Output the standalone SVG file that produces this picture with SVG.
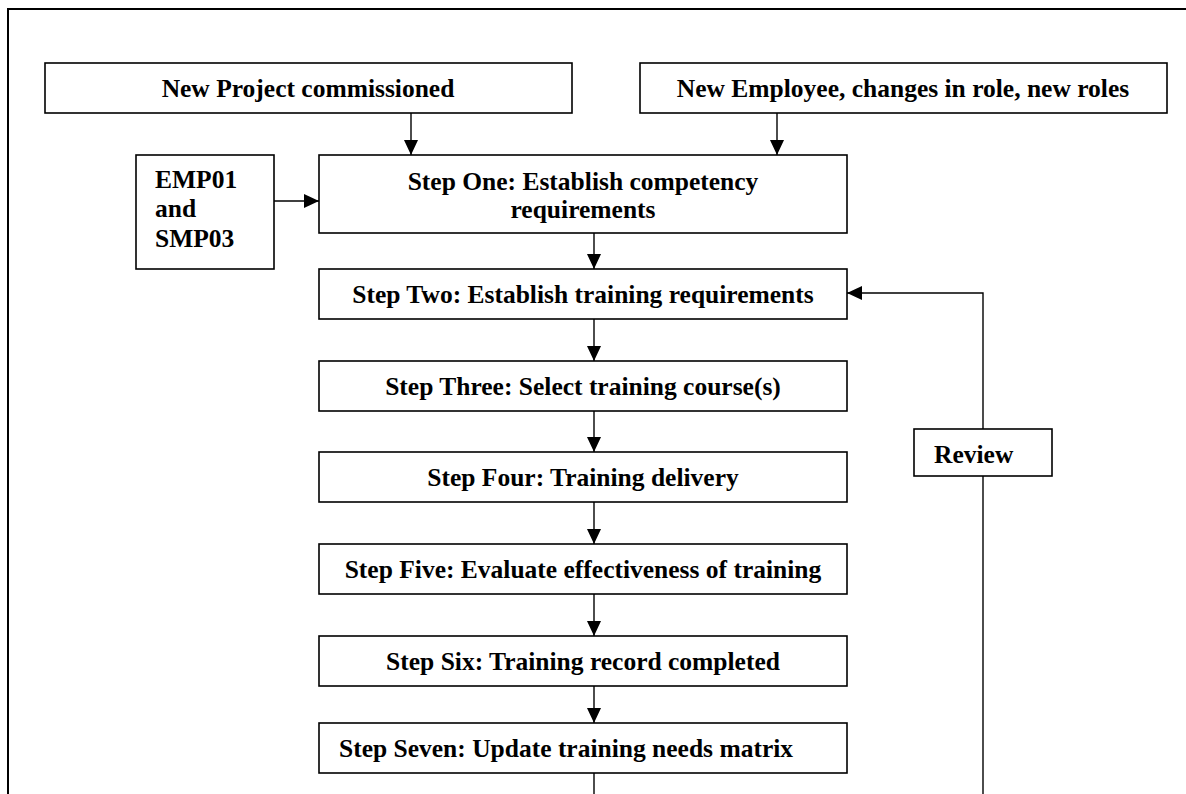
<svg xmlns="http://www.w3.org/2000/svg" width="1186" height="794" viewBox="0 0 1186 794">
  <style>
    .box { fill: #ffffff; stroke: #000000; stroke-width: 1.6; }
    .lbl { font-family: "Liberation Serif", "Times New Roman", serif; font-weight: bold; font-size: 25.5px; fill: #000000; }
    .mid { text-anchor: middle; }
    .conn { fill: none; stroke: #000000; stroke-width: 1.4; }
    .frame { fill: none; stroke: #000000; stroke-width: 2; }
  </style>
  <defs>
    <marker id="arr" markerUnits="userSpaceOnUse" markerWidth="15" markerHeight="14" refX="15" refY="7" orient="auto">
      <path d="M0,0 L15,7 L0,14 z" fill="#000000"/>
    </marker>
  </defs>
  <rect x="0" y="0" width="1186" height="794" fill="#ffffff"/>
  <path class="frame" d="M8,794 L8,9 L1186,9"/>

  <g id="connectors">
    <line class="conn" x1="411" y1="113" x2="411" y2="155" marker-end="url(#arr)"/>
    <line class="conn" x1="777" y1="113" x2="777" y2="155" marker-end="url(#arr)"/>
    <line class="conn" x1="274" y1="201" x2="319" y2="201" marker-end="url(#arr)"/>
    <line class="conn" x1="594" y1="233" x2="594" y2="269" marker-end="url(#arr)"/>
    <line class="conn" x1="594" y1="319" x2="594" y2="361" marker-end="url(#arr)"/>
    <line class="conn" x1="594" y1="411" x2="594" y2="452" marker-end="url(#arr)"/>
    <line class="conn" x1="594" y1="502" x2="594" y2="544" marker-end="url(#arr)"/>
    <line class="conn" x1="594" y1="594" x2="594" y2="636" marker-end="url(#arr)"/>
    <line class="conn" x1="594" y1="686" x2="594" y2="723" marker-end="url(#arr)"/>
    <line class="conn" x1="594" y1="773" x2="594" y2="794"/>
    <line class="conn" x1="983" y1="794" x2="983" y2="476"/>
    <polyline class="conn" points="983,429 983,293 847,293" marker-end="url(#arr)"/>
  </g>

  <g id="new-project">
    <rect class="box" x="45" y="63" width="527" height="50"/>
    <text class="lbl mid" x="308" y="97">New Project commissioned</text>
  </g>
  <g id="new-employee">
    <rect class="box" x="640" y="63" width="527" height="50"/>
    <text class="lbl mid" x="903" y="97">New Employee, changes in role, new roles</text>
  </g>
  <g id="emp01-smp03">
    <rect class="box" x="136" y="155" width="138" height="114"/>
    <text class="lbl" x="155" y="188">EMP01</text>
    <text class="lbl" x="155" y="217">and</text>
    <text class="lbl" x="155" y="247">SMP03</text>
  </g>
  <g id="step-one">
    <rect class="box" x="319" y="155" width="528" height="78"/>
    <text class="lbl mid" x="583" y="190">Step One: Establish competency</text>
    <text class="lbl mid" x="583" y="218">requirements</text>
  </g>
  <g id="step-two">
    <rect class="box" x="319" y="269" width="528" height="50"/>
    <text class="lbl mid" x="583" y="303">Step Two: Establish training requirements</text>
  </g>
  <g id="step-three">
    <rect class="box" x="319" y="361" width="528" height="50"/>
    <text class="lbl mid" x="583" y="395">Step Three: Select training course(s)</text>
  </g>
  <g id="step-four">
    <rect class="box" x="319" y="452" width="528" height="50"/>
    <text class="lbl mid" x="583" y="486">Step Four: Training delivery</text>
  </g>
  <g id="step-five">
    <rect class="box" x="319" y="544" width="528" height="50"/>
    <text class="lbl mid" x="583" y="578">Step Five: Evaluate effectiveness of training</text>
  </g>
  <g id="step-six">
    <rect class="box" x="319" y="636" width="528" height="50"/>
    <text class="lbl mid" x="583" y="670">Step Six: Training record completed</text>
  </g>
  <g id="step-seven">
    <rect class="box" x="319" y="723" width="528" height="50"/>
    <text class="lbl" x="339" y="757">Step Seven: Update training needs matrix</text>
  </g>
  <g id="review">
    <rect class="box" x="914" y="429" width="138" height="47"/>
    <text class="lbl" x="934" y="463">Review</text>
  </g>
</svg>
